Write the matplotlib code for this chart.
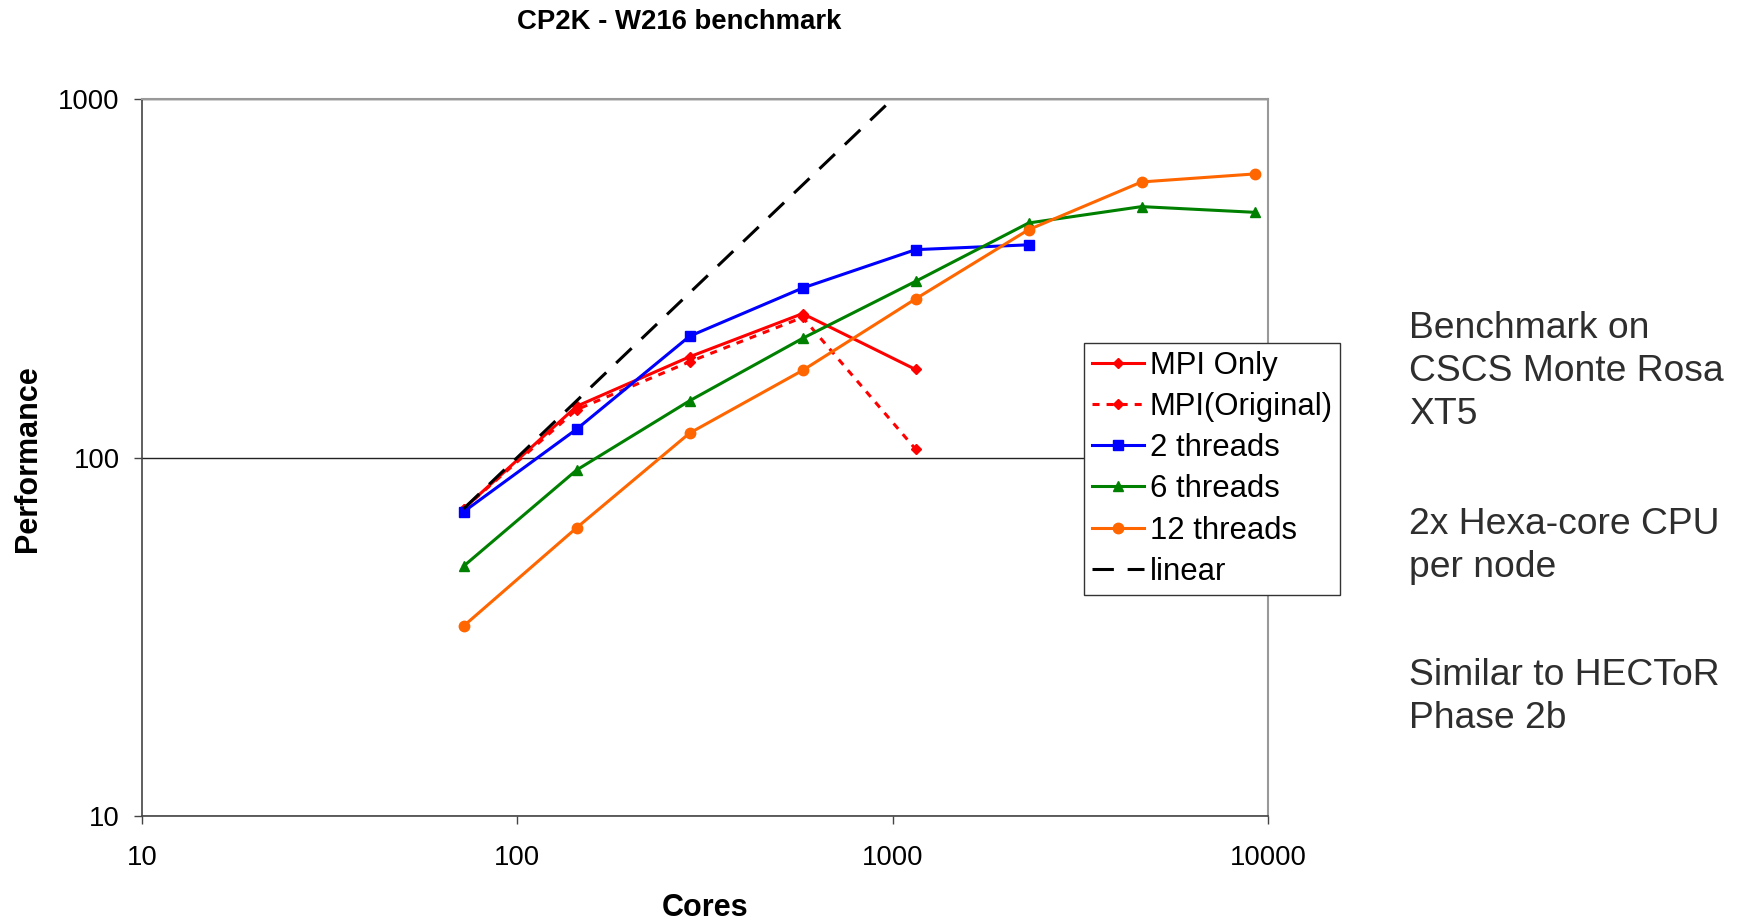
import matplotlib
matplotlib.use('Agg')
import matplotlib.pyplot as plt

plt.rcParams['font.family'] = ['Liberation Sans', 'DejaVu Sans']

# cores per run
cores = [72, 144, 288, 576, 1152, 2304, 4608, 9216]

# performance for each build
mpi_only = [72, 139, 191, 252, 176]
mpi_original = [72, 136, 185, 246, 105.5]
threads_2 = [70.6, 120, 218, 297, 380, 392]
threads_6 = [49.8, 92.3, 144, 215, 310, 451, 501, 483]
threads_12 = [33.9, 63.7, 117, 175, 277, 432, 587, 618]
linear = [72, 144, 288, 576, 1152]

side_notes = [
    'Benchmark on\nCSCS Monte Rosa\nXT5',
    '2x Hexa-core CPU\nper node',
    'Similar to HECToR\nPhase 2b',
]

fig = plt.figure(figsize=(17.42, 9.21), dpi=100)
ax = fig.add_axes([0.0815, 0.114, 0.6463, 0.7785])

lw = 2.2
ax.plot(cores[:5], mpi_only, color='#FF0000', lw=lw, marker='D', ms=5, label='MPI Only')
ax.plot(cores[:5], mpi_original, color='#FF0000', lw=lw, ls=(0, (2.3, 2.3)), marker='D', ms=5,
        label='MPI(Original)')
ax.plot(cores[:6], threads_2, color='#0000FF', lw=lw, marker='s', ms=6.5, label='2 threads')
ax.plot(cores, threads_6, color='#008000', lw=lw, marker='^', ms=7.5, label='6 threads')
ax.plot(cores, threads_12, color='#FF6600', lw=lw, marker='o', ms=7.5, label='12 threads')
ax.plot(cores[:5], linear, color='black', lw=lw, ls=(0, (7, 4.5)), label='linear')

ax.set_xscale('log')
ax.set_yscale('log')
ax.set_xlim(10, 10000)
ax.set_ylim(10, 1000)
ax.set_xticks([10, 100, 1000, 10000])
ax.set_xticklabels(['10', '100', '1000', '10000'])
ax.set_yticks([10, 100, 1000])
ax.set_yticklabels(['10', '100', '1000'])
ax.minorticks_off()
ax.tick_params(axis='both', which='major', direction='out', length=6, width=1,
               color='#444444', labelsize=19.8)
ax.tick_params(axis='x', pad=15)
ax.tick_params(axis='y', pad=10)

ax.yaxis.grid(True, color='#222222', lw=1)
ax.set_axisbelow(True)
for side in ['left', 'bottom']:
    ax.spines[side].set_color('#444444')
    ax.spines[side].set_linewidth(1.2)
for side in ['top', 'right']:
    ax.spines[side].set_color('#999999')
    ax.spines[side].set_linewidth(1.5)

ax.set_xlabel('Cores', fontsize=22, fontweight='bold', va='center')
ax.xaxis.set_label_coords(0.5, -0.128)
ax.set_ylabel('Performance', fontsize=22, fontweight='bold', va='center', ha='center')
ax.yaxis.set_label_coords(-0.101, 0.498)
fig.text(0.39, 0.976, 'CP2K - W216 benchmark', fontsize=19.8, fontweight='bold',
         ha='center', va='center')

leg = ax.legend(loc='upper left', bbox_to_anchor=(0.8366, 0.6597), fontsize=22.4,
                frameon=True, fancybox=False, framealpha=1, edgecolor='#333333',
                handlelength=1.68, handletextpad=0.18, labelspacing=0.36,
                borderpad=0.25, borderaxespad=0)
leg.get_frame().set_linewidth(1.0)

ys = [0.662, 0.4495, 0.2856]
for y, note in zip(ys, side_notes):
    fig.text(0.809, y, note, fontsize=26.8, color='#2e2e2e', ha='left', va='top',
             linespacing=1.3)

fig.savefig('out.png', dpi=100)
